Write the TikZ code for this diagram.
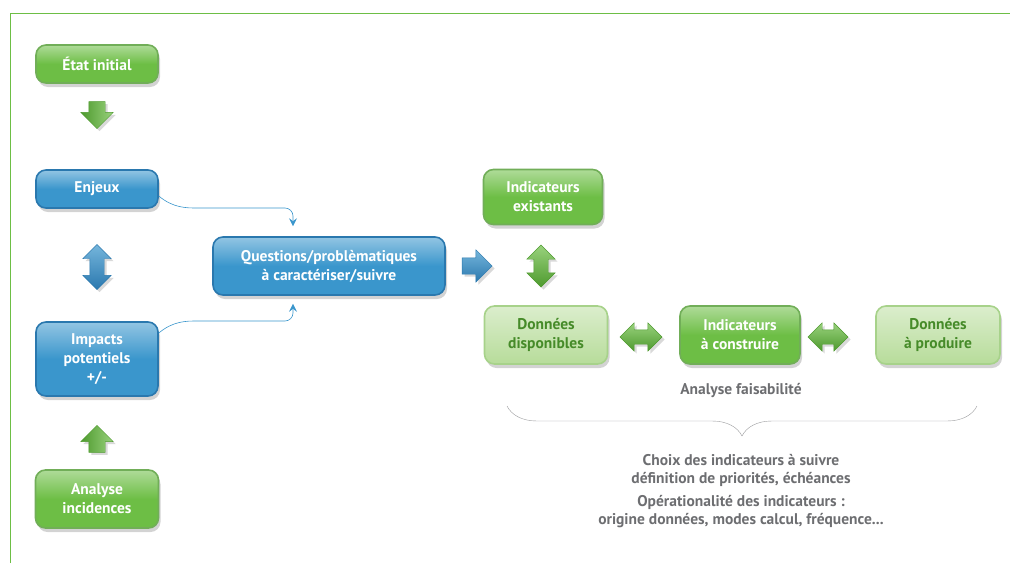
\documentclass[tikz,border=0pt]{standalone}
\usepackage{fontspec}
\setmainfont{PT Sans}
\usetikzlibrary{shapes.arrows, shadows, decorations.pathreplacing, arrows.meta}

\definecolor{vert}{HTML}{6DBE45}
\definecolor{vertfonce}{HTML}{4E9A2E}
\definecolor{vertpale}{HTML}{B7DC9A}
\definecolor{bleu}{HTML}{3A96CC}
\definecolor{bleufonce}{HTML}{2A78AE}
\definecolor{gristexte}{HTML}{6D6E71}

\begin{document}
\begin{tikzpicture}[
    x=1pt, y=-1pt,
    font=\bfseries\fontsize{15.5}{19}\selectfont,
    every node/.style={anchor=center, align=center, inner sep=0pt},
    boite/.style={rounded corners=10pt, line width=1.6pt, text=white,
        drop shadow={shadow xshift=2pt, shadow yshift=-4pt, opacity=.35}},
    vertbox/.style={boite, draw=vertfonce!80, top color=vert!55!white, bottom color=vert,
        middle color=vert},
    palebox/.style={boite, draw=vertpale!85!vertfonce, top color=vertpale!50!white,
        bottom color=vertpale, text=vertfonce!90!black},
    bleubox/.style={boite, draw=bleufonce, top color=bleu!55!white, bottom color=bleu,
        middle color=bleu},
    flecheverte/.style={single arrow, inner sep=8pt, single arrow head extend=8pt,
        draw=vertfonce, thin, left color=vertfonce, right color=vert!70!white,
        minimum height=27pt, drop shadow={opacity=.3}},
    doubleverte/.style={double arrow, inner sep=7pt, double arrow head extend=7pt,
        draw=vertfonce, thin, top color=vert!70!white, bottom color=vertfonce,
        drop shadow={opacity=.3}},
    doublebleue/.style={double arrow, inner sep=7pt, double arrow head extend=7pt,
        draw=bleufonce, thin, top color=bleu!70!white, bottom color=bleufonce,
        drop shadow={opacity=.3}},
    lien/.style={-{Stealth[length=8pt, width=8pt, inset=3pt]}, bleu, semithick,
        rounded corners=8pt},
    note/.style={text=gristexte, font=\bfseries\fontsize{15.5}{18}\selectfont}
    ]

    % cadre
    \useasboundingbox (0,0) rectangle (1010,563);
    \draw[vert, line width=1pt] (10,563) -- (10,13) -- (1010,13);

    % colonne de gauche
    \node[vertbox, minimum width=122pt, minimum height=38pt] (etat) at (97,64) {État initial};
    \node[flecheverte, shape border rotate=270] (fl1) at (97,111) {};
    \node[bleubox, minimum width=122pt, minimum height=38pt] (enjeux) at (97,189) {Enjeux};
    \node[doublebleue, rotate=90, minimum height=45pt] (fl2) at (97,267) {};
    \node[bleubox, minimum width=122pt, minimum height=74pt] (impacts) at (97,359)
        {Impacts\\potentiels\\+/-};
    \node[flecheverte, shape border rotate=90] (fl3) at (97,443) {};
    \node[vertbox, minimum width=123pt, minimum height=58pt] (analyse) at (97,499)
        {Analyse\\incidences};

    % questions
    \node[bleubox, minimum width=232pt, minimum height=58pt] (questions) at (329,266)
        {Questions/problèmatiques\\à caractériser/suivre};
    \node[single arrow, inner sep=8pt, single arrow head extend=8pt, draw=bleufonce, thin,
        top color=bleu!70!white, bottom color=bleufonce,
        minimum height=30pt, drop shadow={opacity=.3}] (fl4) at (473,266) {};

    \draw[lien] ([yshift=-7pt]enjeux.east) to[out=-40,in=180] (205,208)
        -| ([xshift=-36pt,yshift=10pt]questions.north);
    \draw[lien] ([yshift=26pt]impacts.east) to[out=40,in=180] (205,321)
        -| ([xshift=-36pt,yshift=-8pt]questions.south);

    % indicateurs
    \node[vertbox, minimum width=119pt, minimum height=55pt] (existants) at (543,197)
        {Indicateurs\\existants};
    \node[doubleverte, rotate=90, minimum height=42pt] (fl5) at (541,266) {};
    \node[palebox, minimum width=123pt, minimum height=58pt] (disponibles) at (546,335)
        {Données\\disponibles};
    \node[doubleverte, minimum height=42pt] (fl6) at (641,337) {};
    \node[vertbox, minimum width=120pt, minimum height=58pt] (construire) at (740,335)
        {Indicateurs\\à construire};
    \node[doubleverte, minimum height=40pt] (fl7) at (828,337) {};
    \node[palebox, minimum width=124pt, minimum height=58pt] (produire) at (938,335)
        {Données\\à produire};

    % analyse faisabilite
    \node[note] (faisabilite) at (741,391) {Analyse faisabilité};
    \draw[gristexte!70, thin, decorate, decoration={brace, amplitude=30pt}]
        (977,406) -- (507,406);
    \node[note] (choix) at (741,470) {Choix des indicateurs à suivre\\définition de priorités, échéances};
    \node[note] (operationalite) at (741,512)
        {Opérationalité des indicateurs :\\origine données, modes calcul, fréquence...};
\end{tikzpicture}
\end{document}
